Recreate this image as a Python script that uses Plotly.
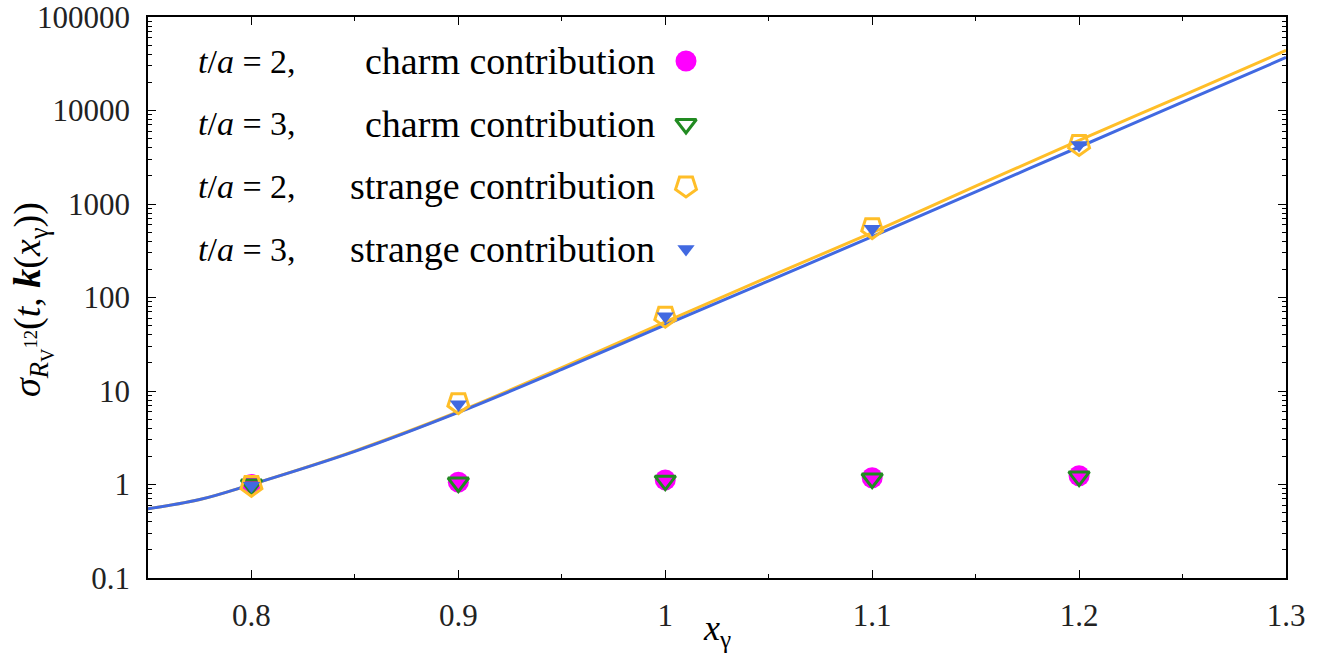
import plotly.graph_objects as go

# ---- data ----
x_pts = [0.8, 0.9, 1.0, 1.1, 1.2]
charm_t2 = [1.0, 1.06, 1.12, 1.18, 1.24]
charm_t3 = [1.0, 1.05, 1.1, 1.16, 1.22]
strange_t2 = [0.98, 7.5, 63, 560, 4330]
strange_t3 = [0.97, 7.2, 63, 545, 4270]

curve_x = [0.75, 0.775, 0.8, 0.85, 0.9, 0.95, 1.0, 1.05, 1.1, 1.15, 1.2, 1.25, 1.3]
curve_yellow = [0.55, 0.69, 1.0, 2.29, 6.0, 17.8, 55, 166, 495, 1550, 4790, 14450, 43900]
curve_blue = [0.55, 0.69, 1.0, 2.26, 5.9, 17.0, 51, 151, 447, 1350, 4070, 12300, 36900]

y_tickvals = [0.1, 1, 10, 100, 1000, 10000, 100000]
y_ticktext = ["0.1", "1", "10", "100", "1000", "10000", "100000"]
x_tickvals = [0.8, 0.9, 1.0, 1.1, 1.2, 1.3]
x_ticktext = ["0.8", "0.9", "1", "1.1", "1.2", "1.3"]

legend_prefix = ["<i>t</i>/<i>a</i> = 2,", "<i>t</i>/<i>a</i> = 3,",
                 "<i>t</i>/<i>a</i> = 2,", "<i>t</i>/<i>a</i> = 3,"]
legend_suffix = ["charm contribution", "charm contribution",
                 "strange contribution", "strange contribution"]

# ---- style ----
MAGENTA = "#FF00FF"
GREEN = "#228B22"
YELLOW = "#FFBE28"
BLUE = "#4169E1"
SERIF = "'Liberation Serif', 'Times New Roman', 'DejaVu Serif', serif"

W, H = 1340, 656
L, R, T, B = 148, 1286, 17, 578  # plot area in window pixels


def px_x(p):
    return (p - L) / (R - L)


def px_y(p):
    return (B - p) / (B - T)


fig = go.Figure()

fig.add_trace(go.Scatter(x=curve_x, y=curve_yellow, mode="lines",
                         line=dict(color=YELLOW, width=3, shape="spline"),
                         showlegend=False, hoverinfo="skip"))
fig.add_trace(go.Scatter(x=curve_x, y=curve_blue, mode="lines",
                         line=dict(color=BLUE, width=3, shape="spline"),
                         showlegend=False, hoverinfo="skip"))

marker_styles = [
    dict(symbol="circle", size=21, color=MAGENTA, line=dict(width=0)),
    dict(symbol="triangle-down-open", size=18, color=GREEN, line=dict(width=3, color=GREEN)),
    dict(symbol="pentagon-open", size=22, angle=180, color=YELLOW, line=dict(width=3, color=YELLOW)),
    dict(symbol="triangle-down", size=15, color=BLUE, line=dict(width=0)),
]
series = [charm_t2, charm_t3, strange_t2, strange_t3]

for ys, ms in zip(series, marker_styles):
    fig.add_trace(go.Scatter(x=x_pts, y=ys, mode="markers", marker=ms, showlegend=False))

# legend markers (drawn on an invisible overlay axis in plot-fraction units)
leg_rows_px = [61, 124, 186, 249]
for row, ms in zip(leg_rows_px, marker_styles):
    fig.add_trace(go.Scatter(x=[px_x(686)], y=[px_y(row)], xaxis="x2", yaxis="y2",
                             mode="markers", marker=ms, showlegend=False, hoverinfo="skip"))

annotations = []
for row, pre, suf in zip(leg_rows_px, legend_prefix, legend_suffix):
    annotations.append(dict(x=px_x(196), y=px_y(row), xref="paper", yref="paper",
                            text=pre, showarrow=False, xanchor="left", yanchor="middle",
                            font=dict(family=SERIF, size=34, color="black")))
    annotations.append(dict(x=px_x(657), y=px_y(row), xref="paper", yref="paper",
                            text=suf, showarrow=False, xanchor="right", yanchor="middle",
                            font=dict(family=SERIF, size=38, color="black")))

# axis titles
annotations.append(dict(x=px_x(717), y=px_y(630), xref="paper", yref="paper",
                        text="<i>x</i><sub>γ</sub>", showarrow=False,
                        xanchor="center", yanchor="middle",
                        font=dict(family=SERIF, size=36, color="black")))
annotations.append(dict(x=px_x(32), y=px_y(300), xref="paper", yref="paper",
                        text="<i>σ</i><sub><i>R</i><sub>V</sub><sup>12</sup></sub>(<i>t</i>, <b><i>k</i></b>(<i>x</i><sub>γ</sub>))",
                        showarrow=False, textangle=-90, xanchor="center", yanchor="middle",
                        font=dict(family=SERIF, size=38, color="black")))

axis_common = dict(showline=True, linecolor="black", linewidth=1.5, mirror="ticks",
                   ticks="inside", ticklen=8, tickwidth=1, tickcolor="black",
                   showgrid=False, zeroline=False, ticklabeloverflow="allow",
                   tickfont=dict(family=SERIF, size=31, color="#222222"))

fig.update_layout(
    width=W, height=H,
    margin=dict(l=L, r=W - R, t=T, b=H - B, autoexpand=False),
    paper_bgcolor="white", plot_bgcolor="white",
    showlegend=False,
    xaxis=dict(range=[0.75, 1.3], tickvals=x_tickvals, ticktext=x_ticktext,
               ticklabelstandoff=9,
               minor=dict(ticks="inside", ticklen=4, tickcolor="black", dtick=0.05, tick0=0.75),
               **axis_common),
    yaxis=dict(type="log", range=[-1, 5], tickvals=y_tickvals, ticktext=y_ticktext,
               ticklabelstandoff=10,
               minor=dict(ticks="inside", ticklen=4, tickcolor="black", dtick="D1"),
               **axis_common),
    xaxis2=dict(overlaying="x", range=[0, 1], visible=False),
    yaxis2=dict(overlaying="y", range=[0, 1], visible=False),
    annotations=annotations,
)

# remove the browser's default 8px body margin so the figure fills the window exactly
fig.write_html("out.html", config={"displayModeBar": False},
               post_script="document.body.style.margin='0';")
